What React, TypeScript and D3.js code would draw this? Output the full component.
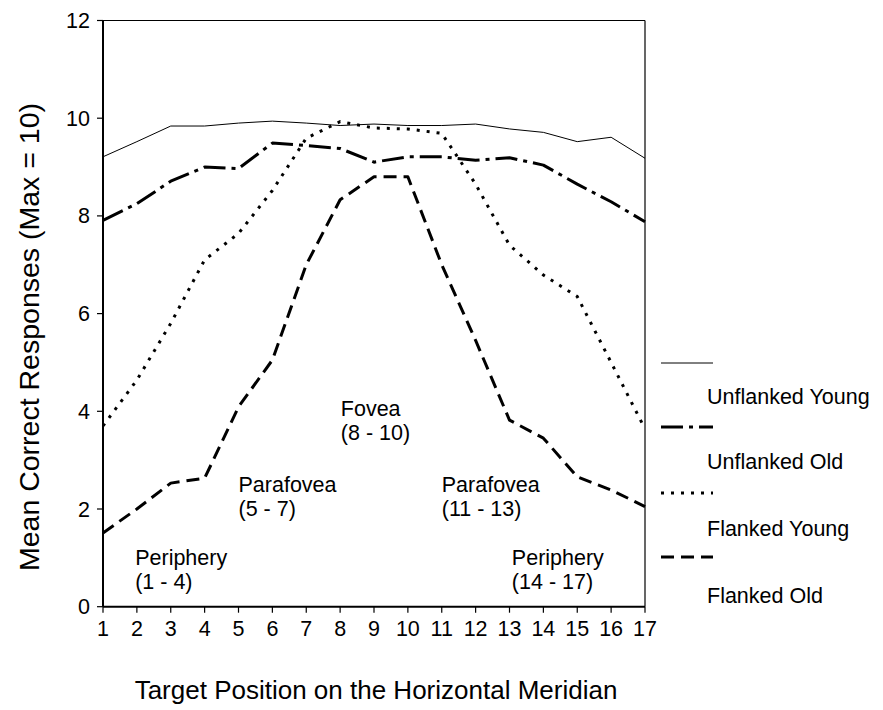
import React from "react";
import * as d3 from "d3";

const positions = [1, 2, 3, 4, 5, 6, 7, 8, 9, 10, 11, 12, 13, 14, 15, 16, 17];
const unflankedYoung = [9.21, 9.52, 9.84, 9.84, 9.9, 9.94, 9.9, 9.85, 9.88, 9.85, 9.85, 9.88, 9.78, 9.71, 9.52, 9.61, 9.18];
const unflankedOld = [7.91, 8.25, 8.71, 9.0, 8.97, 9.49, 9.44, 9.38, 9.1, 9.21, 9.21, 9.14, 9.19, 9.04, 8.65, 8.29, 7.88];
const flankedYoung = [3.7, 4.64, 5.8, 7.1, 7.64, 8.52, 9.59, 9.93, 9.8, 9.78, 9.69, 8.65, 7.4, 6.79, 6.35, 5.0, 3.64];
const flankedOld = [1.51, 2.0, 2.53, 2.63, 4.09, 5.05, 7.0, 8.33, 8.8, 8.8, 7.0, 5.45, 3.82, 3.45, 2.66, 2.39, 2.05];
const yTicks = [0, 2, 4, 6, 8, 10, 12];
const seriesNames = ["Unflanked Young", "Unflanked Old", "Flanked Young", "Flanked Old"];
const regionLabels = [
  { name: "Periphery", range: "(1 - 4)", pos: 1.95, val: 0.85 },
  { name: "Parafovea", range: "(5 - 7)", pos: 5.0, val: 2.35 },
  { name: "Fovea", range: "(8 - 10)", pos: 8.02, val: 3.9 },
  { name: "Parafovea", range: "(11 - 13)", pos: 11.0, val: 2.35 },
  { name: "Periphery", range: "(14 - 17)", pos: 13.07, val: 0.85 },
];

const FONT = "'Liberation Sans', Arial, sans-serif";

export default function App() {
  const left = 103, right = 645, top = 20.5, bottom = 606.7;
  const x = d3.scaleLinear().domain([1, 17]).range([left, right]);
  const y = d3.scaleLinear().domain([0, 12]).range([bottom, top]);
  const line = d3.line<number>().x((_, i) => x(positions[i])).y((d) => y(d));

  const styles = [
    { data: unflankedYoung, width: 1, dash: "none" },
    { data: unflankedOld, width: 3, dash: "22,6,4,6" },
    { data: flankedYoung, width: 3, dash: "3,7" },
    { data: flankedOld, width: 3, dash: "13,7" },
  ];

  const legendLineY = [363, 427, 493, 557];
  const legendTextY = [404, 469, 536, 603];

  return (
    <svg width={883} height={710} style={{ position: "absolute", left: 0, top: 0, background: "#fff" }}>
      <rect x={0} y={0} width={883} height={710} fill="#fff" />
      {/* frame */}
      <line x1={left} x2={right} y1={top} y2={top} stroke="#000" strokeWidth={1.2} />
      <line x1={right} x2={right} y1={top} y2={bottom} stroke="#000" strokeWidth={1.2} />
      <line x1={left} x2={left} y1={top} y2={bottom} stroke="#000" strokeWidth={2} />
      <line x1={left} x2={right} y1={bottom} y2={bottom} stroke="#000" strokeWidth={2} />
      {/* y ticks */}
      {yTicks.map((t) => (
        <g key={"y" + t}>
          <line x1={left - 6} x2={left} y1={y(t)} y2={y(t)} stroke="#000" strokeWidth={1.2} />
          <text x={left - 13} y={y(t) + 7.5} textAnchor="end" fontFamily={FONT} fontSize={21.5} fill="#000">
            {t}
          </text>
        </g>
      ))}
      {/* x ticks */}
      {positions.map((p) => (
        <g key={"x" + p}>
          <line x1={x(p)} x2={x(p)} y1={bottom} y2={bottom + 6} stroke="#000" strokeWidth={1.2} />
          <text x={x(p)} y={bottom + 29} textAnchor="middle" fontFamily={FONT} fontSize={21.5} fill="#000">
            {p}
          </text>
        </g>
      ))}
      {/* series */}
      {styles.map((s, i) => (
        <path
          key={"s" + i}
          d={line(s.data) || ""}
          fill="none"
          stroke="#000"
          strokeWidth={s.width}
          strokeDasharray={s.dash}
          strokeLinejoin="round"
        />
      ))}
      {/* region labels */}
      {regionLabels.map((r, i) => (
        <g key={"r" + i} fontFamily={FONT} fontSize={21.5} fill="#000">
          <text x={x(r.pos)} y={y(r.val)}>{r.name}</text>
          <text x={x(r.pos)} y={y(r.val) + 24}>{r.range}</text>
        </g>
      ))}
      {/* legend */}
      {styles.map((s, i) => (
        <g key={"l" + i}>
          <line x1={661} x2={713} y1={legendLineY[i]} y2={legendLineY[i]} stroke="#000" strokeWidth={s.width} strokeDasharray={s.dash} />
          <text x={707} y={legendTextY[i]} fontFamily={FONT} fontSize={21.5} fill="#000">
            {seriesNames[i]}
          </text>
        </g>
      ))}
      {/* axis titles */}
      <text x={376} y={699} textAnchor="middle" fontFamily={FONT} fontSize={26} fill="#000">
        Target Position on the Horizontal Meridian
      </text>
      <text
        transform="translate(39, 337) rotate(-90)"
        textAnchor="middle"
        fontFamily={FONT}
        fontSize={28.5}
        fill="#000"
      >
        Mean Correct Responses (Max = 10)
      </text>
    </svg>
  );
}
